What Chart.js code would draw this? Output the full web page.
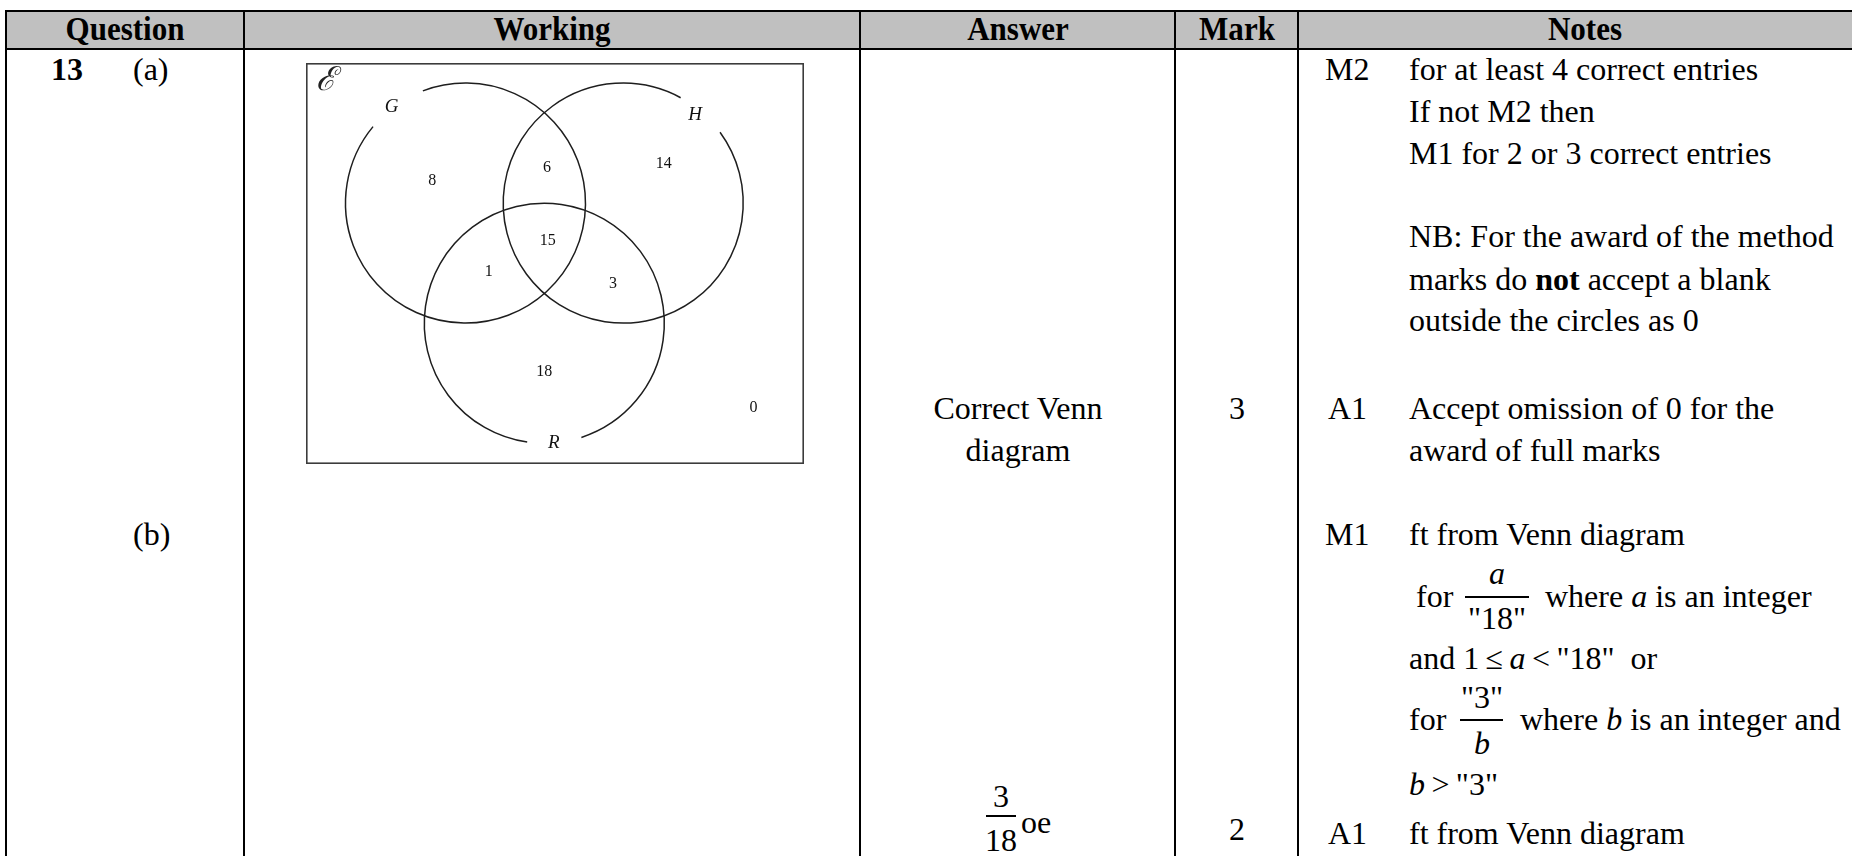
<!DOCTYPE html>
<html>
<head>
<meta charset="utf-8">
<title>Question 13 mark scheme</title>
<script src="https://cdn.jsdelivr.net/npm/chart.js@4.4.1/dist/chart.umd.min.js"></script>
<style>
  body { margin:0; width:1852px; height:856px; overflow:hidden; background:#fff; color:#000;
         font-family:"Liberation Serif","Times New Roman",serif; position:relative; }
  .ln { position:absolute; background:#000; }
  .t { position:absolute; font-size:32px; line-height:32px; white-space:nowrap; }
  .h { position:absolute; top:13px; font-size:33px; line-height:33px; font-weight:bold; white-space:nowrap;
       transform:translateX(-50%) scaleX(0.94); }
  .c { transform:translateX(-50%); }
  .bar { position:absolute; height:1.5px; background:#000; }
  #vennWrap { position:absolute; left:306px; top:63px; width:498px; height:401px; }
</style>
</head>
<body>

<!-- table frame -->
<div class="ln" style="left:6px;top:11px;width:1846px;height:38px;background:#c0c0c0"></div>
<div class="ln" style="left:5px;top:10px;width:1847px;height:2px"></div>
<div class="ln" style="left:5px;top:48px;width:1847px;height:2px"></div>
<div class="ln" style="left:5px;top:10px;width:2px;height:846px"></div>
<div class="ln" style="left:243px;top:10px;width:2px;height:846px"></div>
<div class="ln" style="left:859px;top:10px;width:2px;height:846px"></div>
<div class="ln" style="left:1174px;top:10px;width:2px;height:846px"></div>
<div class="ln" style="left:1297px;top:10px;width:2px;height:846px"></div>

<!-- header -->
<div class="h" style="left:125px">Question</div>
<div class="h" style="left:552px">Working</div>
<div class="h" style="left:1018px">Answer</div>
<div class="h" style="left:1237px">Mark</div>
<div class="h" style="left:1585px">Notes</div>

<!-- question column -->
<div class="t" style="left:51px;top:53px;font-weight:bold">13</div>
<div class="t" style="left:133px;top:53px">(a)</div>
<div class="t" style="left:133px;top:518px">(b)</div>

<!-- working column: the Venn diagram -->
<div id="vennWrap"><canvas id="vennChart" width="498" height="401"></canvas></div>

<!-- answer column -->
<div class="t c" style="left:1001px;top:780px">3</div>
<div class="bar" style="left:986px;top:815px;width:30px"></div>
<div class="t c" style="left:1001px;top:824px">18</div>
<div class="t" style="left:1021px;top:806px">oe</div>
<div class="t c" style="left:1018px;top:392px">Correct Venn</div>
<div class="t c" style="left:1018px;top:434px">diagram</div>

<!-- mark column -->
<div class="t c" style="left:1237px;top:392px">3</div>
<div class="t c" style="left:1237px;top:813px">2</div>

<!-- notes column -->
<div class="t" style="left:1325px;top:53px">M2</div>
<div class="t" style="left:1409px;top:53px">for at least 4 correct entries</div>
<div class="t" style="left:1409px;top:95px">If not M2 then</div>
<div class="t" style="left:1409px;top:137px">M1 for 2 or 3 correct entries</div>
<div class="t" style="left:1409px;top:220px">NB: For the award of the method</div>
<div class="t" style="left:1409px;top:263px">marks do <b>not</b> accept a blank</div>
<div class="t" style="left:1409px;top:304px">outside the circles as 0</div>
<div class="t" style="left:1328px;top:392px">A1</div>
<div class="t" style="left:1409px;top:392px">Accept omission of 0 for the</div>
<div class="t" style="left:1409px;top:434px">award of full marks</div>

<div class="t" style="left:1325px;top:518px">M1</div>
<div class="t" style="left:1409px;top:518px">ft from Venn diagram</div>
<div class="t" style="left:1416px;top:580px">for</div>
<div class="t c" style="left:1497px;top:557px"><i>a</i></div>
<div class="bar" style="left:1465px;top:596px;width:64px"></div>
<div class="t c" style="left:1497px;top:602px">"18"</div>
<div class="t" style="left:1545px;top:580px">where <i>a</i> is an integer</div>
<div class="t" style="left:1409px;top:642px">and 1&thinsp;≤&thinsp;<i>a</i>&thinsp;&lt;&thinsp;"18"&nbsp; or</div>
<div class="t" style="left:1409px;top:703px">for</div>
<div class="t c" style="left:1482px;top:681px">"3"</div>
<div class="bar" style="left:1460px;top:719px;width:43px"></div>
<div class="t c" style="left:1482px;top:727px"><i>b</i></div>
<div class="t" style="left:1520px;top:703px">where <i>b</i> is an integer and</div>
<div class="t" style="left:1409px;top:768px"><i>b</i>&thinsp;&gt;&thinsp;"3"</div>
<div class="t" style="left:1328px;top:817px">A1</div>
<div class="t" style="left:1409px;top:817px">ft from Venn diagram</div>

<script>
// ================= VENN DATA =================
// sets G, H, R and the number in each region
const setNames = ["G", "H", "R"];
const regionNames = ["G only", "G and H", "H only", "G, H and R", "G and R", "H and R", "R only", "outside"];
const regionCounts = [8, 6, 14, 15, 1, 3, 18, 0];

// ================= LAYOUT (diagram units = box pixels) =================
const boxWidth = 498;
const boxHeight = 401;
const setCx = [159.5, 317.2, 238.3];
const setCy = [140.1, 140.1, 260.3];
const setRadius = [120, 120, 120];
const gapStart = [219.6, 298.6, 72];   // arc left open for the set label (degrees)
const gapEnd = [249.2, 323.8, 98.2];
const setLabelX = [85.7, 389.2, 247.9];
const setLabelY = [44, 51.7, 379.7];
const regionX = [126.2, 241.1, 357.7, 241.8, 182.8, 306.9, 238.3, 447.5];
const regionY = [117.5, 105.1, 100.8, 177.8, 208.5, 220.9, 308.6, 344.3];

const deg = Math.PI / 180;

const vennPlugin = {
  id: "venn",
  afterDatasetsDraw(chart) {
    const ctx = chart.ctx;
    const xs = chart.scales.x;
    const ys = chart.scales.y;
    const area = chart.chartArea;
    ctx.save();

    // universal set
    ctx.strokeStyle = "#3c3c3c";
    ctx.lineWidth = 1.6;
    ctx.strokeRect(area.left + 0.8, area.top + 0.8, area.width - 1.6, area.height - 1.6);
    ctx.fillStyle = "#222";
    ctx.font = "italic 33px 'DejaVu Serif', serif";
    ctx.textAlign = "center";
    ctx.textBaseline = "middle";
    ctx.fillText("ℰ", xs.getPixelForValue(20), ys.getPixelForValue(18.5));

    // circles
    ctx.strokeStyle = "#1e1e1e";
    ctx.lineWidth = 1.5;
    setNames.forEach((name, i) => {
      const cx = xs.getPixelForValue(setCx[i]);
      const cy = ys.getPixelForValue(setCy[i]);
      const r = xs.getPixelForValue(setRadius[i]) - xs.getPixelForValue(0);
      ctx.beginPath();
      ctx.arc(cx, cy, r, gapEnd[i] * deg, (gapStart[i] + 360) * deg);
      ctx.stroke();

      ctx.fillStyle = "#111";
      ctx.font = "italic 19px 'Liberation Serif', serif";
      ctx.fillText(name, xs.getPixelForValue(setLabelX[i]), ys.getPixelForValue(setLabelY[i]));
    });

    // region counts at the points of the dataset
    const meta = chart.getDatasetMeta(0);
    ctx.font = "16px 'Liberation Serif', serif";
    ctx.fillStyle = "#111";
    meta.data.forEach((pt, i) => {
      ctx.fillText(String(regionCounts[i]), pt.x, pt.y);
    });
    ctx.restore();
  }
};

new Chart(document.getElementById("vennChart"), {
  type: "scatter",
  data: {
    labels: regionNames,
    datasets: [{
      label: "Region counts",
      data: regionX.map((x, i) => ({ x: x, y: regionY[i] })),
      pointRadius: 0,
      pointHoverRadius: 0
    }]
  },
  options: {
    responsive: false,
    animation: false,
    events: [],
    layout: { padding: 0 },
    plugins: {
      legend: { display: false },
      tooltip: { enabled: false }
    },
    scales: {
      x: { type: "linear", min: 0, max: boxWidth, display: false },
      y: { type: "linear", min: 0, max: boxHeight, reverse: true, display: false }
    }
  },
  plugins: [vennPlugin]
});
</script>
</body>
</html>
